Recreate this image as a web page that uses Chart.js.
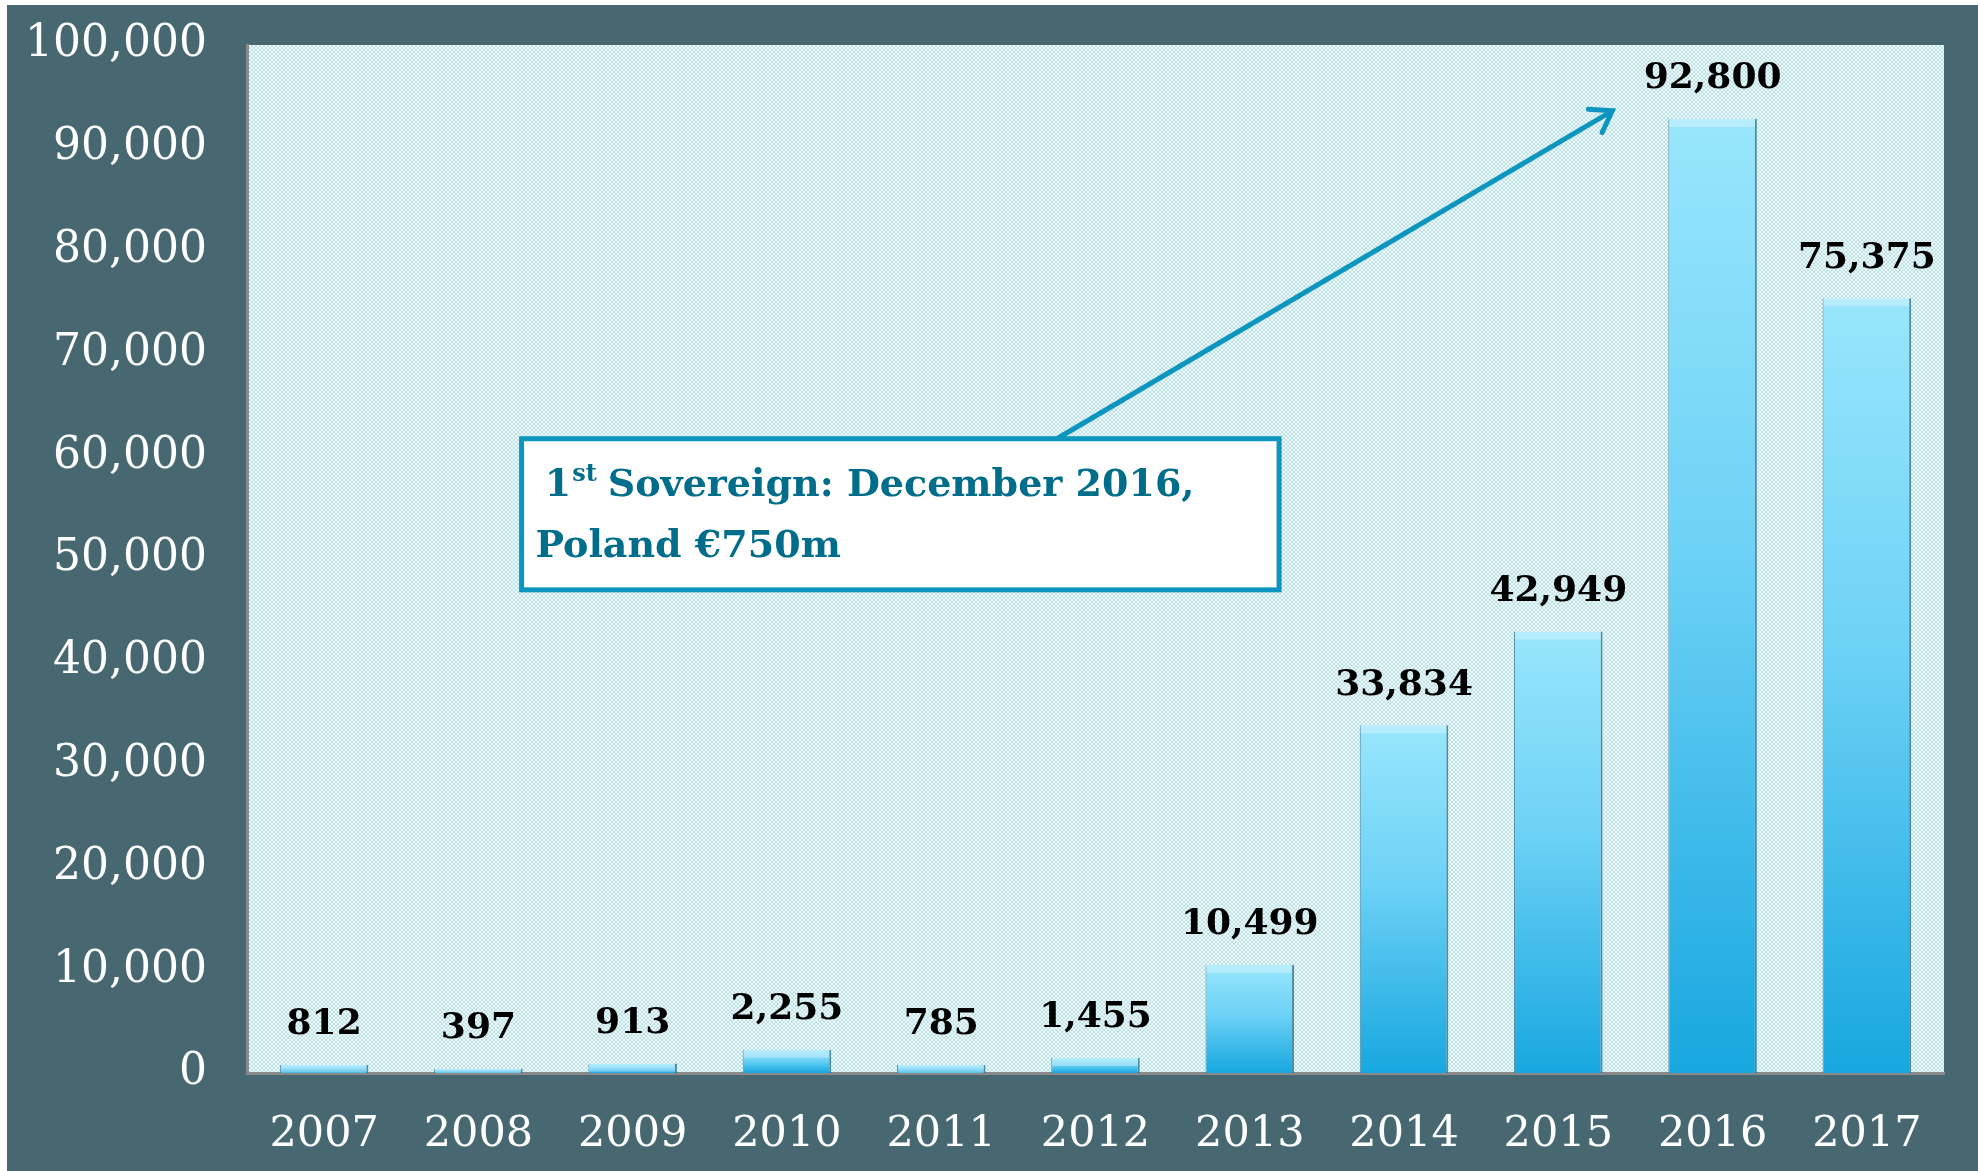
<!DOCTYPE html>
<html>
<head>
<meta charset="utf-8">
<script src="https://cdn.jsdelivr.net/npm/chart.js@4/dist/chart.umd.min.js"></script>
<style>
  html, body { margin: 0; padding: 0; background: #fff; }
  #frame { position: absolute; left: 7px; top: 5px; width: 1971px; height: 1166px; background: #476870; }
</style>
</head>
<body>
<div id="frame"><canvas id="issuance" width="1971" height="1166"></canvas></div>
<script>
// years and issuance volumes
const years = ['2007','2008','2009','2010','2011','2012','2013','2014','2015','2016','2017'];
const volumes = [812, 397, 913, 2255, 785, 1455, 10499, 33834, 42949, 92800, 75375];
const yTicks = [0, 10000, 20000, 30000, 40000, 50000, 60000, 70000, 80000, 90000, 100000];
const noteLines = ['Sovereign: December 2016,', 'Poland \u20ac750m'];

const serif = '"DejaVu Serif", "Liberation Serif", serif';
const fmt = v => v.toLocaleString('en-US');

// checkered light cyan background for the plot area
function makePattern(ctx) {
  const c = document.createElement('canvas');
  c.width = 4; c.height = 4;
  const p = c.getContext('2d');
  p.fillStyle = '#f4fbfc';
  p.fillRect(0, 0, 4, 4);
  p.fillStyle = '#b8e2e8';
  p.fillRect(0, 0, 2, 2);
  p.fillRect(2, 2, 2, 2);
  return ctx.createPattern(c, 'repeat');
}

const plotBg = {
  id: 'plotBg',
  beforeDraw(chart) {
    const { ctx, chartArea: a } = chart;
    ctx.save();
    ctx.fillStyle = makePattern(ctx);
    ctx.fillRect(a.left, a.top, a.right - a.left, a.bottom - a.top);
    ctx.restore();
  }
};

// value labels + bevel highlight on bar tops
const barLabels = {
  id: 'barLabels',
  afterDatasetsDraw(chart) {
    const ctx = chart.ctx;
    const meta = chart.getDatasetMeta(0);
    ctx.save();
    meta.data.forEach((bar, i) => {
      const h = bar.base - bar.y;
      const w = bar.width;
      ctx.fillStyle = 'rgba(255,255,255,0.3)';
      ctx.fillRect(bar.x - w / 2 + 1, bar.y, w - 3, Math.min(8, h));
      ctx.fillStyle = '#000';
      ctx.font = 'bold 36px ' + serif;
      ctx.textAlign = 'center';
      ctx.textBaseline = 'middle';
      ctx.fillText(fmt(volumes[i]), bar.x, bar.y - 40);
    });
    ctx.restore();
  }
};

// callout box with arrow pointing at the 2016 bar
const callout = {
  id: 'callout',
  afterDraw(chart) {
    const { ctx, scales: { x, y } } = chart;
    const teal = '#0b95bf';
    const bx1 = x.getPixelForValue(1.28), bx2 = x.getPixelForValue(6.19);
    const by1 = y.getPixelForValue(61700), by2 = y.getPixelForValue(47000);
    ctx.save();
    // arrow
    const tx = x.getPixelForValue(4.75), ty = by1;
    const hx = x.getPixelForValue(8.35), hy = y.getPixelForValue(93600);
    ctx.strokeStyle = teal;
    ctx.lineWidth = 5;
    ctx.lineCap = 'round';
    ctx.beginPath();
    ctx.moveTo(tx, ty);
    ctx.lineTo(hx, hy);
    const ang = Math.atan2(hy - ty, hx - tx);
    const len = 24;
    ctx.moveTo(hx - len * Math.cos(ang - 0.6), hy - len * Math.sin(ang - 0.6));
    ctx.lineTo(hx, hy);
    ctx.lineTo(hx - len * Math.cos(ang + 0.6), hy - len * Math.sin(ang + 0.6));
    ctx.stroke();
    // box
    ctx.fillStyle = '#fff';
    ctx.fillRect(bx1, by1, bx2 - bx1, by2 - by1);
    ctx.lineWidth = 5;
    ctx.lineCap = 'butt';
    ctx.strokeRect(bx1, by1, bx2 - bx1, by2 - by1);
    // text
    ctx.fillStyle = '#006d8a';
    ctx.textBaseline = 'middle';
    ctx.textAlign = 'left';
    const l1y = y.getPixelForValue(57100), l2y = y.getPixelForValue(51200);
    let lx = x.getPixelForValue(1.43);
    ctx.font = 'bold 38px ' + serif;
    ctx.fillText('1', lx, l1y);
    lx += ctx.measureText('1').width + 1;
    ctx.font = 'bold 24px ' + serif;
    ctx.fillText('st', lx, l1y - 11);
    lx += ctx.measureText('st').width + 11;
    ctx.font = 'bold 38px ' + serif;
    ctx.fillText(noteLines[0], lx, l1y);
    ctx.fillText(noteLines[1], x.getPixelForValue(1.37), l2y);
    ctx.restore();
  }
};

new Chart(document.getElementById('issuance'), {
  type: 'bar',
  data: {
    labels: years,
    datasets: [{
      data: volumes,
      backgroundColor(c) {
        const chart = c.chart;
        if (!chart.chartArea || !c.parsed) return '#5cc8ef';
        const yScale = chart.scales.y;
        const top = yScale.getPixelForValue(c.parsed.y);
        const base = yScale.getPixelForValue(0);
        const g = chart.ctx.createLinearGradient(0, top, 0, Math.max(base, top + 1));
        g.addColorStop(0, '#98e6fc');
        g.addColorStop(0.45, '#6ed2f6');
        g.addColorStop(1, '#17a7df');
        return g;
      },
      borderColor: 'rgba(35,105,135,0.75)',
      borderWidth: { top: 0, left: 1, right: 2, bottom: 0 },
      borderSkipped: false,
      barPercentage: 0.82,
      categoryPercentage: 0.7
    }]
  },
  options: {
    responsive: false,
    animation: false,
    devicePixelRatio: 1,
    layout: { padding: { top: 40, right: 34, left: 0, bottom: 0 } },
    plugins: { legend: { display: false }, tooltip: { enabled: false } },
    scales: {
      x: {
        grid: { display: false, drawTicks: false },
        border: { display: true, color: '#8a8a8a', width: 3 },
        ticks: { color: '#fff', font: { family: serif, size: 43 }, padding: 36 },
        afterFit(s) { s.height = 98; }
      },
      y: {
        min: 0, max: 100000,
        afterBuildTicks(s) { s.ticks = yTicks.map(v => ({ value: v })); },
        // invisible tick marks give the gap between labels and axis
        grid: { display: false, drawTicks: true, tickLength: 40, tickColor: 'rgba(0,0,0,0)' },
        border: { display: true, color: '#8a8a8a', width: 3 },
        ticks: { color: '#fff', font: { family: serif, size: 44 }, padding: 0, callback: v => fmt(v) },
        afterFit(s) { s.width = 240; }
      }
    }
  },
  plugins: [plotBg, barLabels, callout]
});
</script>
</body>
</html>
